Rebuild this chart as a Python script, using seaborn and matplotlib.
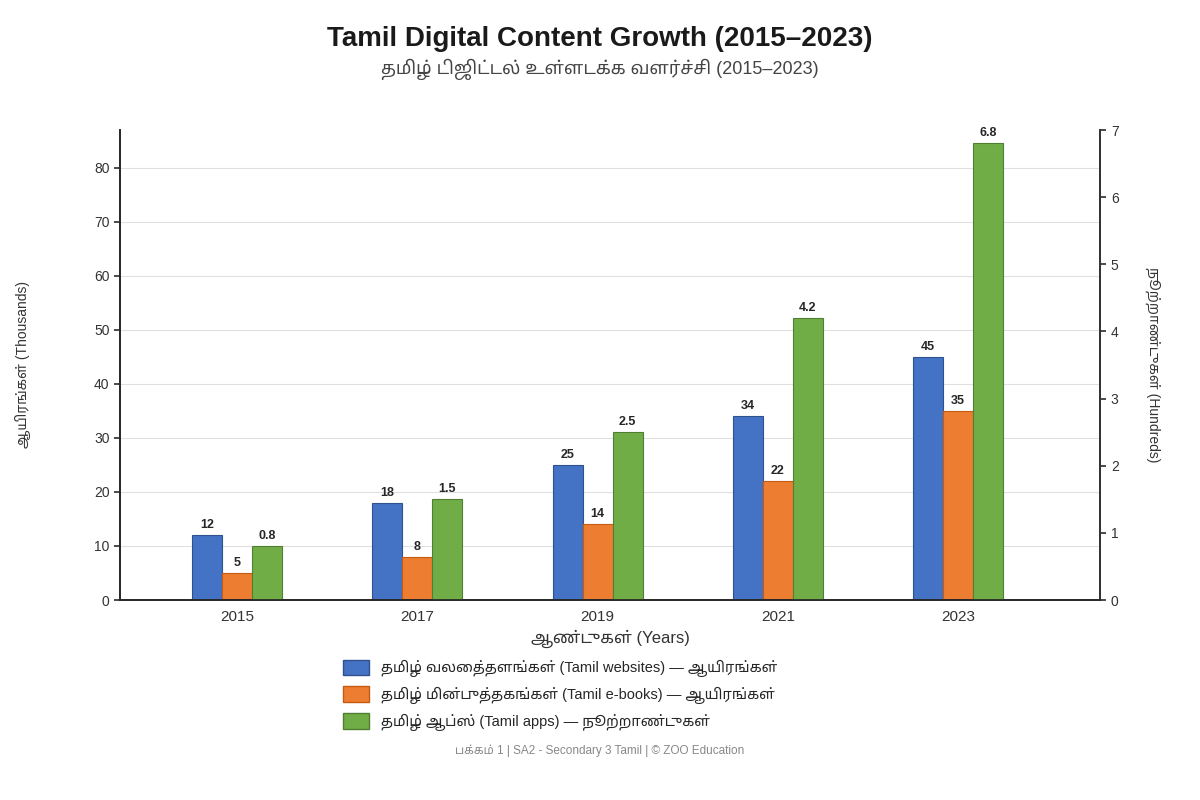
import pandas as pd
import numpy as np
import seaborn as sns
import matplotlib.pyplot as plt
from matplotlib.patches import Patch

sns.set_theme(style="white")
plt.rcParams['font.family'] = ['Liberation Sans', 'Noto Sans Tamil', 'DejaVu Sans']

years = ['2015', '2017', '2019', '2021', '2023']
websites = [12, 18, 25, 34, 45]      # thousands
ebooks = [5, 8, 14, 22, 35]          # thousands
apps = [0.8, 1.5, 2.5, 4.2, 6.8]     # hundreds
series = ['தமிழ் வலைத்தளங்கள் (Tamil websites) — ஆயிரங்கள்',
          'தமிழ் மின்புத்தகங்கள் (Tamil e-books) — ஆயிரங்கள்',
          'தமிழ் ஆப்ஸ் (Tamil apps) — நூற்றாண்டுகள்']
colors = ['#4472C4', '#ED7D31', '#70AD47']
edges = ['#2F528F', '#C55A11', '#507E32']

rows = []
for i, y in enumerate(years):
    rows.append((y, series[0], websites[i], np.nan))
    rows.append((y, series[1], ebooks[i], np.nan))
    rows.append((y, series[2], np.nan, apps[i]))
df = pd.DataFrame(rows, columns=['year', 'series', 'left', 'right'])

fig = plt.figure(figsize=(12, 8), dpi=100)
ax = fig.add_axes([0.1, 0.25, 0.817, 0.5875])
ax2 = ax.twinx()

sns.barplot(data=df, x='year', y='left', hue='series', hue_order=series, saturation=1,
            palette=colors, width=0.5, ax=ax, legend=False, errorbar=None)
sns.barplot(data=df, x='year', y='right', hue='series', hue_order=series, saturation=1,
            palette=colors, width=0.5, ax=ax2, legend=False, errorbar=None)

for a in (ax, ax2):
    for bars, ec in zip(a.containers, edges):
        for b in bars:
            b.set_edgecolor(ec)
            b.set_linewidth(0.8)
ax.bar_label(ax.containers[0], labels=[str(v) for v in websites], padding=3, fontsize=9, fontweight='bold')
ax.bar_label(ax.containers[1], labels=[str(v) for v in ebooks], padding=3, fontsize=9, fontweight='bold')
ax2.bar_label(ax2.containers[2], labels=[str(v) for v in apps], padding=3, fontsize=9, fontweight='bold')

ax.set_xlim(-0.65, 4.79)
ax.set_ylim(0, 87)
ax.set_yticks(range(0, 81, 10))
ax2.set_ylim(0, 7)
ax2.set_yticks(range(0, 8))
ax.grid(axis='y', color='#e0e0e0', linewidth=0.8)
ax.set_axisbelow(True)
for a in (ax, ax2):
    a.spines['top'].set_visible(False)
    a.tick_params(labelsize=10, colors='#333333', length=4)
ax.spines['left'].set_color('#333333')
ax.spines['bottom'].set_color('#333333')
ax2.spines['right'].set_color('#333333')
ax.tick_params(axis='x', labelsize=11)
ax.set_xlabel('ஆண்டுகள் (Years)', fontsize=12, color='#333333')
ax.set_ylabel('ஆயிரங்கள் (Thousands)', fontsize=10, color='#333333', labelpad=45)
ax2.set_ylabel('நூற்றாண்டுகள் (Hundreds)', fontsize=10, color='#333333', rotation=-90, labelpad=30)

fig.text(0.5, 0.943, 'Tamil Digital Content Growth (2015–2023)', ha='center', fontsize=20, fontweight='bold', color='#1a1a1a')
fig.text(0.5, 0.907, 'தமிழ் டிஜிட்டல் உள்ளடக்க வளர்ச்சி (2015–2023)', ha='center', fontsize=13, color='#444444')

handles = [Patch(facecolor=c, edgecolor=e, label=s) for c, e, s in zip(colors, edges, series)]
fig.legend(handles=handles, loc='upper left', bbox_to_anchor=(0.275, 0.192), frameon=False,
           fontsize=10.5, handlelength=1.8, handleheight=1.3, labelspacing=0.6)
fig.text(0.5, 0.058, 'பக்கம் 1 | SA2 - Secondary 3 Tamil | © ZOO Education', ha='center', fontsize=8.5, color='#888888')

fig.savefig('out.png', dpi=100, facecolor='white')
